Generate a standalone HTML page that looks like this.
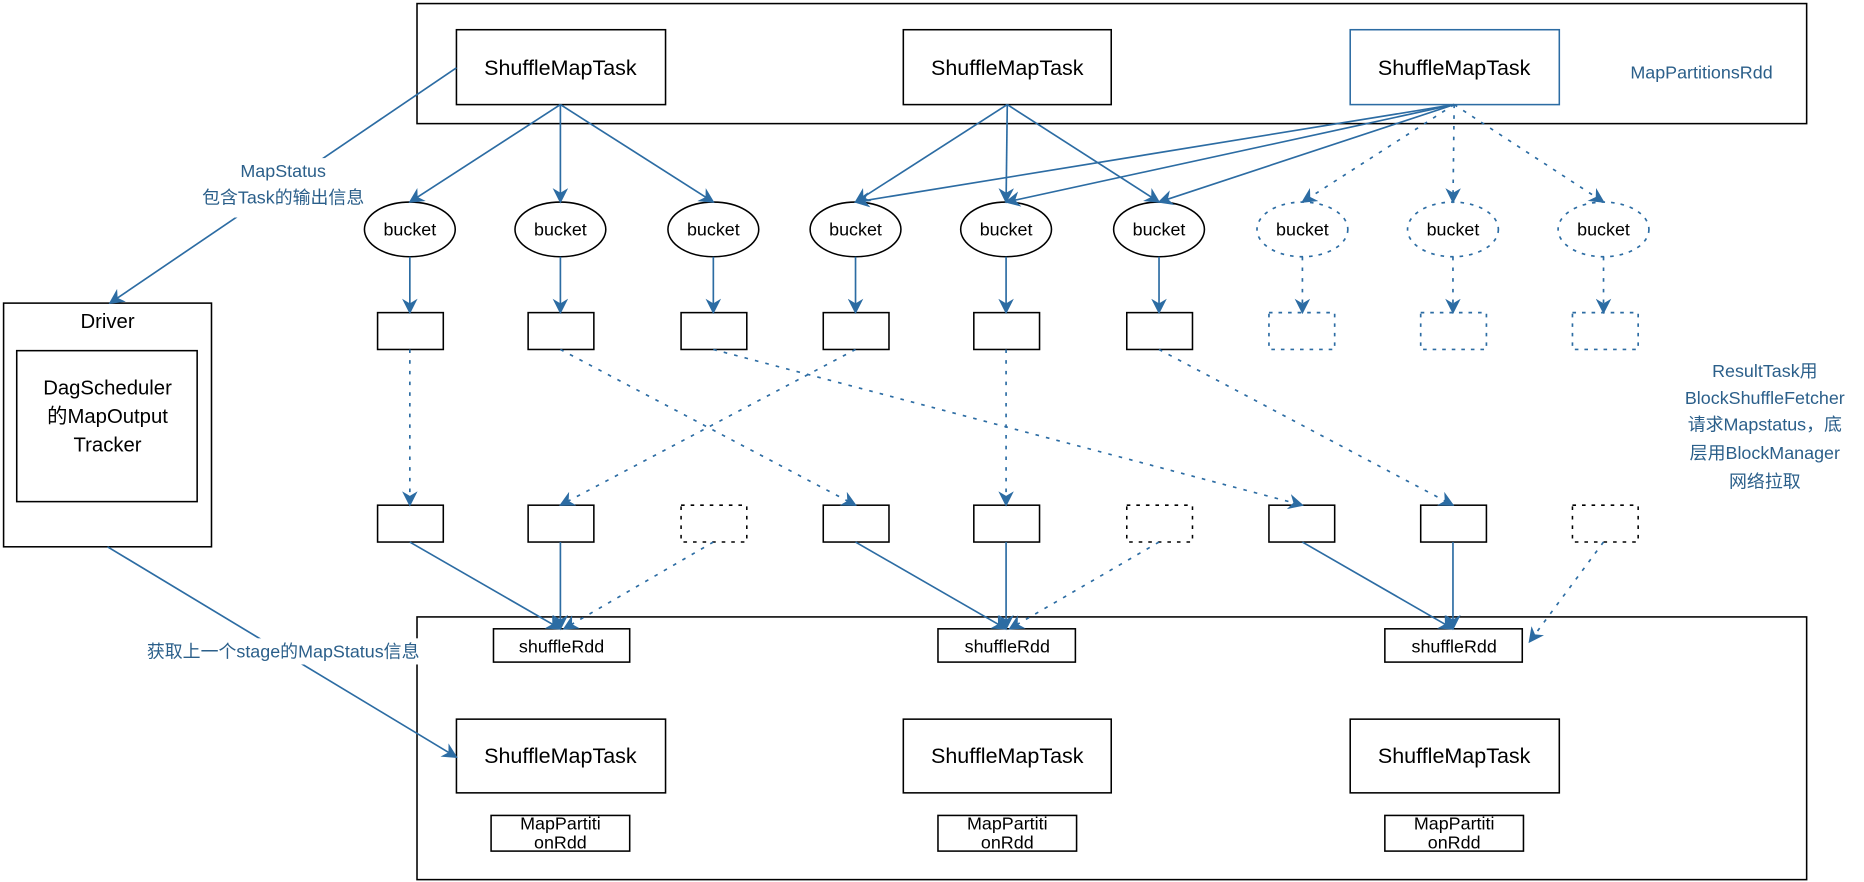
<!DOCTYPE html>
<html><head><meta charset="utf-8"><style>html,body{margin:0;padding:0;background:#fff;}svg{display:block}</style></head>
<body>
<svg width="1864" height="882" viewBox="0 0 1560 742" preserveAspectRatio="none" xmlns="http://www.w3.org/2000/svg" font-family="'Liberation Sans','Noto Sans CJK SC',sans-serif">
<defs>
<marker id="a" viewBox="0 0 10 10" refX="9" refY="5" markerWidth="13" markerHeight="13" orient="auto" markerUnits="userSpaceOnUse"><path d="M0,0 L10,5 L0,10 L3,5 z" fill="#2c6ca3"/></marker>
</defs>
<g fill="none" stroke="#000" stroke-width="1.3">
<rect x="349" y="3" width="1163" height="101"/>
<rect x="349" y="519" width="1163" height="221"/>
<rect x="382" y="25" width="175" height="63" fill="#fff"/>
<rect x="756" y="25" width="174" height="63" fill="#fff"/>
<rect x="1130" y="25" width="175" height="63" fill="#fff" stroke="#2c6ca3"/>
<rect x="3" y="255" width="174" height="205"/>
<rect x="14" y="295" width="151" height="127"/>
<rect x="413" y="529" width="114" height="28"/>
<rect x="785" y="529" width="115" height="28"/>
<rect x="1159" y="529" width="115" height="28"/>
<rect x="382" y="605" width="175" height="62"/>
<rect x="756" y="605" width="174" height="62"/>
<rect x="1130" y="605" width="175" height="62"/>
<rect x="411" y="686" width="116" height="30"/>
<rect x="785" y="686" width="116" height="30"/>
<rect x="1159" y="686" width="116" height="30"/>
</g>
<g fill="none" stroke="#000" stroke-width="1.3">
<ellipse cx="343" cy="193" rx="38" ry="23"/><ellipse cx="469" cy="193" rx="38" ry="23"/><ellipse cx="597" cy="193" rx="38" ry="23"/>
<ellipse cx="716" cy="193" rx="38" ry="23"/><ellipse cx="842" cy="193" rx="38" ry="23"/><ellipse cx="970" cy="193" rx="38" ry="23"/>
<rect x="316" y="263" width="55" height="31"/><rect x="442" y="263" width="55" height="31"/><rect x="570" y="263" width="55" height="31"/>
<rect x="689" y="263" width="55" height="31"/><rect x="815" y="263" width="55" height="31"/><rect x="943" y="263" width="55" height="31"/>
<rect x="316" y="425" width="55" height="31"/><rect x="442" y="425" width="55" height="31"/>
<rect x="689" y="425" width="55" height="31"/><rect x="815" y="425" width="55" height="31"/>
<rect x="1062" y="425" width="55" height="31"/><rect x="1189" y="425" width="55" height="31"/>
<g stroke-dasharray="3,5"><rect x="570" y="425" width="55" height="31"/><rect x="943" y="425" width="55" height="31"/><rect x="1316" y="425" width="55" height="31"/></g>
</g>
<g fill="none" stroke="#2c6ca3" stroke-width="1.4" stroke-dasharray="3,5">
<ellipse cx="1090" cy="193" rx="38" ry="23"/><ellipse cx="1216" cy="193" rx="38" ry="23"/><ellipse cx="1342" cy="193" rx="38" ry="23"/>
<rect x="1062" y="263" width="55" height="31"/><rect x="1189" y="263" width="55" height="31"/><rect x="1316" y="263" width="55" height="31"/>
</g>
<g stroke="#2c6ca3" stroke-width="1.4" fill="none" marker-end="url(#a)">
<line x1="469" y1="88" x2="343" y2="170"/><line x1="469" y1="88" x2="469" y2="170"/><line x1="469" y1="88" x2="597" y2="170"/>
<line x1="843" y1="88" x2="716" y2="170"/><line x1="843" y1="88" x2="842" y2="170"/><line x1="843" y1="88" x2="970" y2="170"/>
<line x1="1217" y1="88" x2="716" y2="170"/><line x1="1217" y1="88" x2="842" y2="170"/><line x1="1217" y1="88" x2="970" y2="170"/>
<line x1="343" y1="216" x2="343" y2="263"/><line x1="469" y1="216" x2="469" y2="263"/><line x1="597" y1="216" x2="597" y2="263"/>
<line x1="716" y1="216" x2="716" y2="263"/><line x1="842" y1="216" x2="842" y2="263"/><line x1="970" y1="216" x2="970" y2="263"/>
<line x1="343" y1="456" x2="469" y2="529"/><line x1="469" y1="456" x2="469" y2="529"/>
<line x1="716" y1="456" x2="842" y2="529"/><line x1="842" y1="456" x2="842" y2="529"/>
<line x1="1090" y1="456" x2="1216" y2="529"/><line x1="1216" y1="456" x2="1216" y2="529"/>
<line x1="382" y1="57" x2="92" y2="255"/>
<line x1="90" y1="460" x2="382" y2="637"/>
</g>
<g stroke="#2c6ca3" stroke-width="1.4" fill="none" stroke-dasharray="3,6" marker-end="url(#a)">
<line x1="1217" y1="88" x2="1090" y2="170"/><line x1="1217" y1="88" x2="1216" y2="170"/><line x1="1217" y1="88" x2="1342" y2="170"/>
<line x1="1090" y1="216" x2="1090" y2="263"/><line x1="1216" y1="216" x2="1216" y2="263"/><line x1="1342" y1="216" x2="1342" y2="263"/>
<line x1="343" y1="294" x2="343" y2="425"/><line x1="469" y1="294" x2="716" y2="425"/><line x1="597" y1="294" x2="1090" y2="425"/>
<line x1="716" y1="294" x2="469" y2="425"/><line x1="842" y1="294" x2="842" y2="425"/><line x1="970" y1="294" x2="1216" y2="425"/>
<line x1="597" y1="456" x2="472" y2="529"/><line x1="970" y1="456" x2="845" y2="529"/><line x1="1342" y1="456" x2="1280" y2="540"/>
</g>
<rect x="170" y="133" width="136" height="50" fill="#fff"/>
<rect x="122" y="537" width="230" height="22" fill="#fff"/>
<g font-size="18" text-anchor="middle" fill="#000">
<text x="469" y="63">ShuffleMapTask</text><text x="843" y="63">ShuffleMapTask</text><text x="1217" y="63">ShuffleMapTask</text>
<text x="469" y="642">ShuffleMapTask</text><text x="843" y="642">ShuffleMapTask</text><text x="1217" y="642">ShuffleMapTask</text>
</g>
<g font-size="15" text-anchor="middle" fill="#000">
<text x="343" y="198">bucket</text><text x="469" y="198">bucket</text><text x="597" y="198">bucket</text>
<text x="716" y="198">bucket</text><text x="842" y="198">bucket</text><text x="970" y="198">bucket</text>
<text x="1090" y="198">bucket</text><text x="1216" y="198">bucket</text><text x="1342" y="198">bucket</text>
<text x="470" y="549">shuffleRdd</text><text x="843" y="549">shuffleRdd</text><text x="1217" y="549">shuffleRdd</text>
<text x="469" y="698">MapPartiti</text><text x="469" y="714">onRdd</text>
<text x="843" y="698">MapPartiti</text><text x="843" y="714">onRdd</text>
<text x="1217" y="698">MapPartiti</text><text x="1217" y="714">onRdd</text>
<text x="90" y="276" font-size="17">Driver</text>
<text x="90" y="332" font-size="17">DagScheduler</text><text x="90" y="356" font-size="17">的MapOutput</text><text x="90" y="380" font-size="17">Tracker</text>
</g>
<g font-size="15" text-anchor="middle" fill="#2b5f8a">
<text x="1424" y="66">MapPartitionsRdd</text>
<text x="237" y="149">MapStatus</text><text x="237" y="171">包含Task的输出信息</text>
<text x="237" y="553">获取上一个stage的MapStatus信息</text>
<text x="1477" y="317">ResultTask用</text><text x="1477" y="340">BlockShuffleFetcher</text>
<text x="1477" y="362">请求Mapstatus，底</text><text x="1477" y="386">层用BlockManager</text><text x="1477" y="410">网络拉取</text>
</g>
</svg>
</body></html>
